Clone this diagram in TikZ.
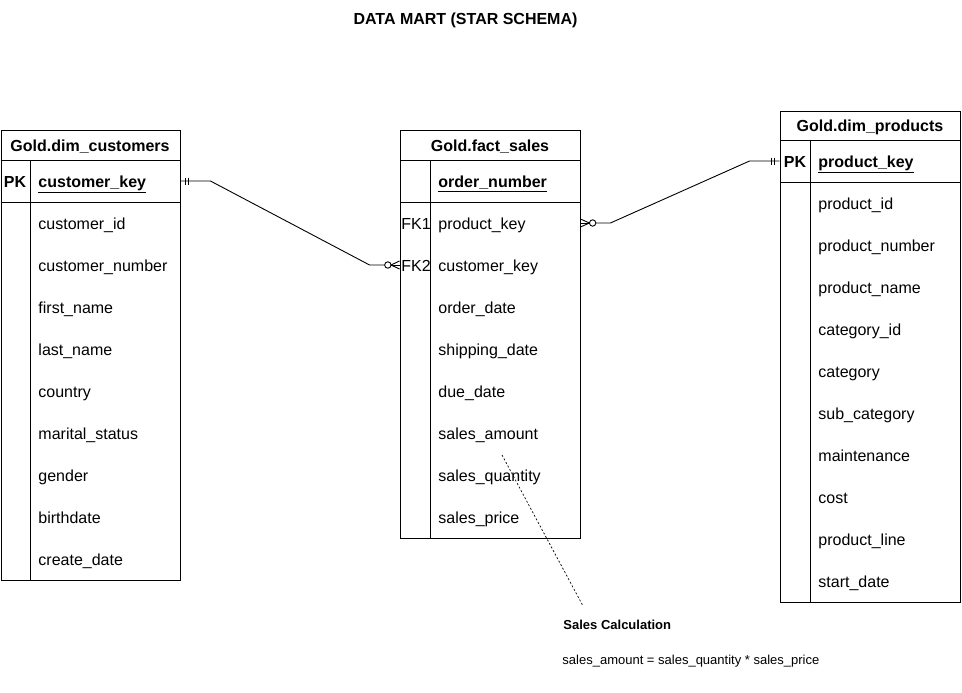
\documentclass[tikz,border=0pt]{standalone}
\usepackage{fontspec}
\setmainfont{Liberation Sans}
\usetikzlibrary{calc}
\begin{document}
\begin{tikzpicture}[x=1pt,y=-1pt,line width=0.9pt,
  fld/.style={anchor=west,inner sep=0pt,text height=13.5pt,text depth=0pt,font=\fontsize{16}{19}\selectfont},
  keyf/.style={fld,font=\fontsize{16}{19}\selectfont\bfseries},
  hdr/.style={inner sep=0pt,text height=13.5pt,text depth=0pt,font=\fontsize{16}{19}\selectfont\bfseries},
  tag/.style={inner sep=0pt,text height=13.5pt,text depth=0pt,font=\fontsize{16}{19}\selectfont},
  rowbox/.style={minimum width=180pt,minimum height=42pt,inner sep=0pt,draw=none},
  tbl/.style={draw,fill=white},
  rel/.style={line width=0.9pt}]
\useasboundingbox (0,0) rectangle (962,693);

% title
\node[inner sep=0pt,font=\fontsize{16}{18}\selectfont\bfseries] (title) at (465.5,20.5) {DATA MART (STAR SCHEMA)};

% ---------- customers ----------
\node[tbl,minimum width=179.4pt,minimum height=450pt,anchor=north west,inner sep=0pt] (cust) at (0.6,130) {};
\draw (0.6,160) -- (180,160);
\draw (0.6,202) -- (180,202);
\draw (30,160) -- (30,580);
\node[hdr] (cust-h) at (90,145) {Gold.dim\_customers};
\node[rowbox] (cust-pk) at (90,181) {};
\node[tag,font=\fontsize{16}{19}\selectfont\bfseries] (cust-pkt) at (15,181) {PK};
\node[keyf] (cust-k) at (38,181) {\underline{customer\_key}};
\foreach \t [count=\i] in {customer\_id,customer\_number,first\_name,last\_name,country,marital\_status,gender,birthdate,create\_date}
  \node[fld] (cust-\i) at (38,181+42*\i) {\t};

% ---------- fact ----------
\node[tbl,minimum width=180pt,minimum height=408pt,anchor=north west,inner sep=0pt] (fact) at (400,130) {};
\draw (400,160) -- (580,160);
\draw (400,202) -- (580,202);
\draw (430,160) -- (430,538);
\node[hdr] (fact-h) at (490,145) {Gold.fact\_sales};
\node[keyf] (fact-k) at (438,181) {\underline{order\_number}};
\node[rowbox] (fact-fk1) at (490,223) {};
\node[rowbox] (fact-fk2) at (490,265) {};
\node[tag,anchor=west] (fk1t) at (401,223) {FK1};
\node[tag,anchor=west] (fk2t) at (401,265) {FK2};
\foreach \t [count=\i] in {product\_key,customer\_key,order\_date,shipping\_date,due\_date,sales\_amount,sales\_quantity,sales\_price}
  \node[fld] (fact-\i) at (438,181+42*\i) {\t};

% ---------- products ----------
\node[tbl,minimum width=180pt,minimum height=491pt,anchor=north west,inner sep=0pt] (prod) at (780,111) {};
\draw (780,140) -- (960,140);
\draw (780,182) -- (960,182);
\draw (810,140) -- (810,602);
\node[hdr] (prod-h) at (870,125) {Gold.dim\_products};
\node[rowbox] (prod-pk) at (870,161) {};
\node[tag,font=\fontsize{16}{19}\selectfont\bfseries] (prod-pkt) at (795,161) {PK};
\node[keyf] (prod-k) at (818,161) {\underline{product\_key}};
\foreach \t [count=\i] in {product\_id,product\_number,product\_name,category\_id,category,sub\_category,maintenance,cost,product\_line,start\_date}
  \node[fld] (prod-\i) at (818,161+42*\i) {\t};

% ---------- relation customers -> fact ----------
\draw[rel] (cust-pk.east) -- ++(30,0) -- ($(fact-fk2.west)+(-30,0)$) -- ($(fact-fk2.west)+(-15,0)$);
\draw[rel] ($(cust-pk.east)+(4.5,-3.5)$) -- ++(0,7);
\draw[rel] ($(cust-pk.east)+(7.5,-3.5)$) -- ++(0,7);
\draw[rel,fill=white] ($(fact-fk2.west)+(-11.7,0)$) circle (3.2pt);
\draw[rel] ($(fact-fk2.west)+(-8.5,0)$) -- (fact-fk2.west);
\draw[rel] ($(fact-fk2.west)+(-8.5,0)$) -- ($(fact-fk2.west)+(0,-4)$);
\draw[rel] ($(fact-fk2.west)+(-8.5,0)$) -- ($(fact-fk2.west)+(0,4)$);

% ---------- relation fact -> products ----------
\draw[rel] ($(fact-fk1.east)+(15,0)$) -- ($(fact-fk1.east)+(30,0)$) -- ($(prod-pk.west)+(-30,0)$) -- (prod-pk.west);
\draw[rel,fill=white] ($(fact-fk1.east)+(12.2,0)$) circle (3.2pt);
\draw[rel] ($(fact-fk1.east)+(9,0)$) -- (fact-fk1.east);
\draw[rel] ($(fact-fk1.east)+(9,0)$) -- ($(fact-fk1.east)+(0,-4)$);
\draw[rel] ($(fact-fk1.east)+(9,0)$) -- ($(fact-fk1.east)+(0,4)$);
\draw[rel] ($(prod-pk.west)+(-7.7,-3.5)$) -- ++(0,7);
\draw[rel] ($(prod-pk.west)+(-4.7,-3.5)$) -- ++(0,7);

% ---------- note ----------
\node[inner sep=0pt,anchor=west,font=\fontsize{13}{15}\selectfont\bfseries] (note) at (563,625) {Sales Calculation};
\node[inner sep=0pt,anchor=west,font=\fontsize{13}{15}\selectfont] (formula) at (562,661) {sales\_amount = sales\_quantity * sales\_price};
\coordinate (noteend) at (583,606);
\draw[line width=0.7pt,dash pattern=on 2pt off 2pt] (502,455) -- (noteend);
\end{tikzpicture}
\end{document}
